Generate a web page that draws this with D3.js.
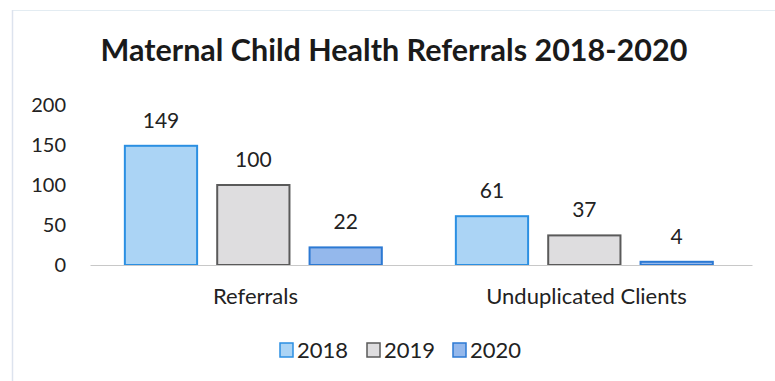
<!DOCTYPE html>
<html>
<head>
<meta charset="utf-8">
<script src="https://cdn.jsdelivr.net/npm/d3@7"></script>
<style>
  html, body { margin: 0; padding: 0; background: #fff; }
  svg { display: block; font-family: Lato, "Open Sans", sans-serif; }
</style>
</head>
<body>
<svg id="chart" width="775" height="381"></svg>
<script>
// Referral counts by category and year
const categories = ["Referrals", "Unduplicated Clients"];
const years = ["2018", "2019", "2020"];
const values2018 = [149, 61];
const values2019 = [100, 37];
const values2020 = [22, 4];
const yTicks = [0, 50, 100, 150, 200];

const seriesValues = { "2018": values2018, "2019": values2019, "2020": values2020 };
const fills = { "2018": "#abd4f5", "2019": "#dedddf", "2020": "#94b8ec" };
const strokes = { "2018": "#2b8fe2", "2019": "#5a5a5a", "2020": "#2c79d3" };

const svg = d3.select("#chart");

// faint chart frame
svg.append("line").attr("x1", 12).attr("x2", 775).attr("y1", 10.5).attr("y2", 10.5)
  .attr("stroke", "#e3ecf2").attr("stroke-width", 1);
svg.append("line").attr("x1", 12.5).attr("x2", 12.5).attr("y1", 10).attr("y2", 381)
  .attr("stroke", "#dde3ee").attr("stroke-width", 1.5);

const margin = { left: 90, right: 23, top: 105, bottom: 116 };
const W = 775, H = 381;

const x0 = d3.scaleBand().domain(categories).range([margin.left, W - margin.right]).paddingInner(0).paddingOuter(0);
const x1 = d3.scaleBand().domain(years).range([0, x0.bandwidth()]).paddingInner(0.196).paddingOuter(0.39).align(0.47);
const y = d3.scaleLinear().domain([0, 200]).range([H - margin.bottom, H - margin.bottom - 160]);

// title
svg.append("text")
  .attr("x", 394).attr("y", 61)
  .attr("text-anchor", "middle")
  .attr("font-size", 30.5).attr("font-weight", "bold").attr("fill", "#1a1a1a")
  .text("Maternal Child Health Referrals 2018-2020");

// y axis labels
const yAxis = d3.axisLeft(y).tickValues(yTicks).tickSize(0).tickPadding(0);
const gy = svg.append("g").attr("transform", `translate(66,0)`).call(yAxis);
gy.select(".domain").remove();
gy.selectAll("text").attr("font-size", 20).attr("fill", "#222").attr("font-family", "Lato, 'Open Sans', sans-serif");

// bars
const groups = svg.append("g").selectAll("g")
  .data(categories).join("g")
  .attr("transform", d => `translate(${x0(d)},0)`);

groups.each(function(cat, ci) {
  const g = d3.select(this);
  years.forEach(yr => {
    const v = seriesValues[yr][ci];
    g.append("rect")
      .attr("x", x1(yr) + 1)
      .attr("y", y(v))
      .attr("width", x1.bandwidth() - 2)
      .attr("height", y(0) - y(v))
      .attr("fill", fills[yr])
      .attr("stroke", strokes[yr])
      .attr("stroke-width", 2);
    g.append("text")
      .attr("x", x1(yr) + x1.bandwidth() / 2)
      .attr("y", y(v) - 18)
      .attr("text-anchor", "middle")
      .attr("font-size", 21).attr("fill", "#222")
      .text(v);
  });
});

// baseline axis
const xAxis = d3.axisBottom(x0).tickSize(0).tickPadding(23);
const gx = svg.append("g").attr("transform", `translate(0,${y(0)})`).call(xAxis);
gx.select(".domain").attr("stroke", "#c8c8c8").attr("stroke-width", 1);
gx.selectAll("text").attr("font-size", 22).attr("fill", "#222").attr("font-family", "Lato, 'Open Sans', sans-serif");

// legend
const legendX = [280, 367, 453];
const legend = svg.append("g");
years.forEach((yr, i) => {
  legend.append("rect")
    .attr("x", legendX[i]).attr("y", 343)
    .attr("width", 13).attr("height", 14)
    .attr("fill", fills[yr]).attr("stroke", strokes[yr]).attr("stroke-width", 1.5);
  legend.append("text")
    .attr("x", legendX[i] + 17).attr("y", 358)
    .attr("font-size", 22).attr("fill", "#222")
    .text(yr);
});
</script>
</body>
</html>
